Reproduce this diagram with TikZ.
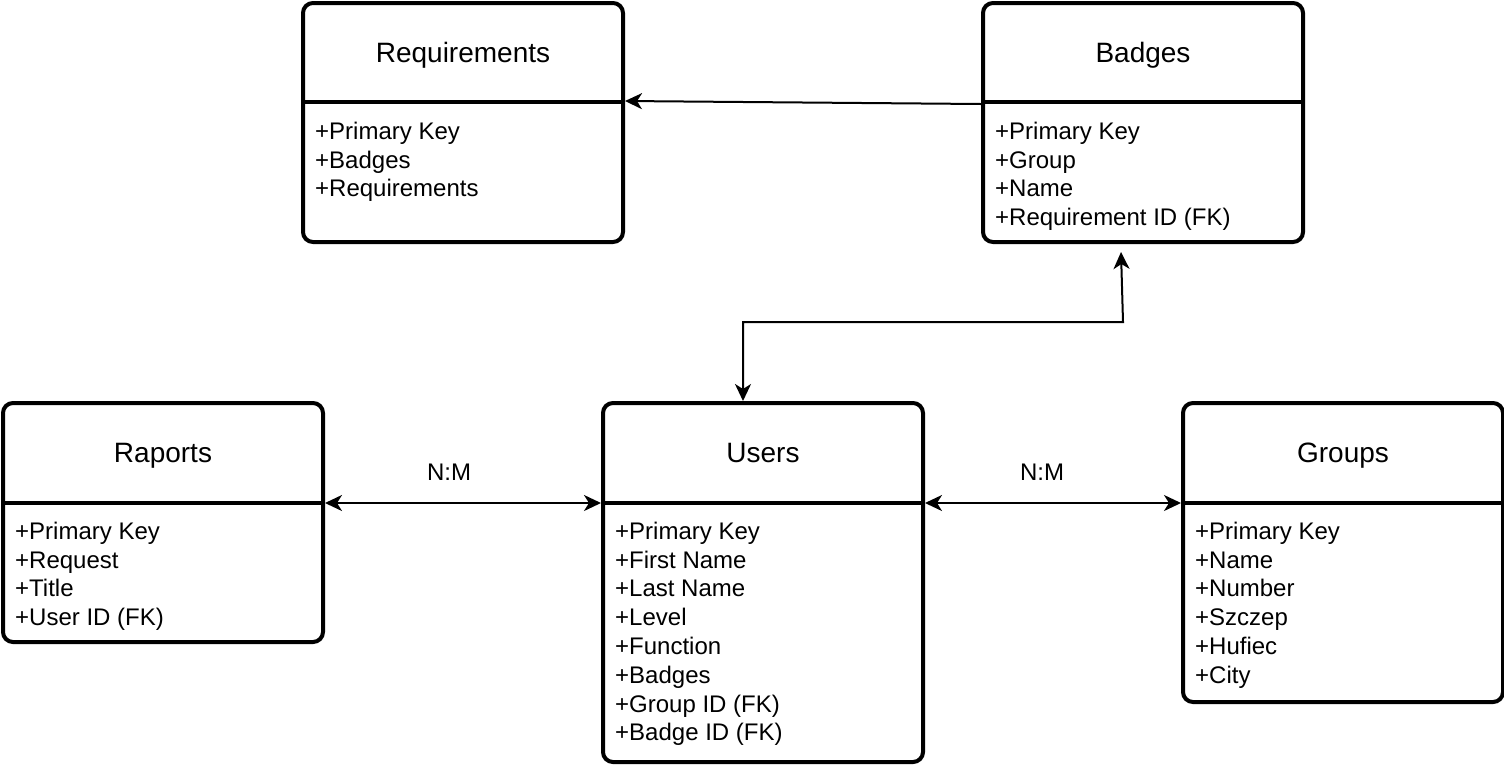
\documentclass[tikz,border=0pt]{standalone}
\usepackage{fontspec}
\setmainfont{Liberation Sans}
\usetikzlibrary{arrows.meta}
\begin{document}
\begin{tikzpicture}[x=1pt,y=-1pt,
  box/.style={draw, line width=4pt, rounded corners=10pt, minimum width=320pt, inner sep=0pt},
  divider/.style={line width=4pt},
  ttl/.style={font=\fontsize{28}{34}\selectfont, anchor=base, inner sep=0pt},
  attr/.style={font=\fontsize{24}{29}\selectfont, anchor=base west, inner sep=0pt},
  lbl/.style={font=\fontsize{24}{29}\selectfont, anchor=base, inner sep=0pt},
  tip/.tip={Stealth[length=17pt,width=16pt,inset=5pt]},
  conn/.style={line width=2pt, -tip},
  both/.style={line width=2pt, tip-tip}]
\useasboundingbox (0,0) rectangle (1504,764);

% boxes
\node[box, minimum height=239pt] (req) at (463,122.5) {};
\node[box, minimum height=239pt] (bad) at (1143,122.5) {};
\node[box, minimum height=239pt] (rap) at (163,522.5) {};
\node[box, minimum height=359pt] (usr) at (763,582.5) {};
\node[box, minimum height=299pt] (grp) at (1343,552.5) {};

% dividers
\draw[divider] (303,102) -- (623,102);
\draw[divider] (983,102) -- (1303,102);
\draw[divider] (3,503) -- (323,503);
\draw[divider] (603,503) -- (923,503);
\draw[divider] (1183,503) -- (1503,503);

% titles
\node[ttl] (reqt) at (463,62.5) {Requirements};
\node[ttl] (badt) at (1143,62.5) {Badges};
\node[ttl] (rapt) at (163,462.5) {Raports};
\node[ttl] (usrt) at (763,462.5) {Users};
\node[ttl] (grpt) at (1343,462.5) {Groups};

% attributes
\foreach \t [count=\i from 0] in {+Primary Key,+Badges,+Requirements}
  \node[attr] (reqa\i) at (315,139.3+28.8*\i) {\t};
\foreach \t [count=\i from 0] in {+Primary Key,+Group,+Name,+Requirement ID (FK)}
  \node[attr] (bada\i) at (995,139.3+28.8*\i) {\t};
\foreach \t [count=\i from 0] in {+Primary Key,+Request,+Title,+User ID (FK)}
  \node[attr] (rapa\i) at (15,539.3+28.8*\i) {\t};
\foreach \t [count=\i from 0] in {+Primary Key,+First Name,+Last Name,+Level,+Function,+Badges,+Group ID (FK),+Badge ID (FK)}
  \node[attr] (usra\i) at (615,539.3+28.8*\i) {\t};
\foreach \t [count=\i from 0] in {+Primary Key,+Name,+Number,+Szczep,+Hufiec,+City}
  \node[attr] (grpa\i) at (1195,539.3+28.8*\i) {\t};

% connectors
\draw[conn] ([yshift=18.5pt]bad.west) -- ([yshift=21.5pt]req.east);
\coordinate (bend) at (1123,322);
\draw[both] ([xshift=-20pt]usr.north) |- (bend) -- ([xshift=-22pt,yshift=-8pt]bad.south);
\draw[both] ([yshift=19.5pt]rap.east) -- ([yshift=79.5pt]usr.west);
\draw[both] ([yshift=79.5pt]usr.east) -- ([yshift=49.5pt]grp.west);

% labels
\node[lbl] (nm1) at (449,480) {N:M};
\node[lbl] (nm2) at (1042,480) {N:M};
\end{tikzpicture}
\end{document}
